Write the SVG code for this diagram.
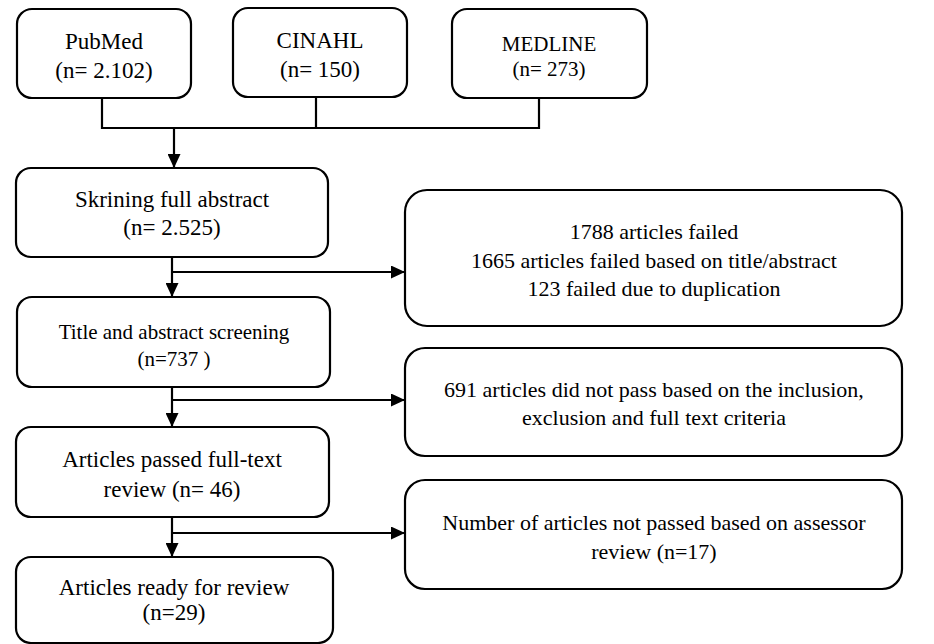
<svg xmlns="http://www.w3.org/2000/svg" width="934" height="644" viewBox="0 0 934 644">
<style>
.box{fill:#fff;stroke:#000;stroke-width:2.2}
.t{font-family:"Liberation Serif","Times New Roman",serif;font-size:22px;fill:#000;text-anchor:middle}
.l{font-size:23px}
.s{font-size:21px}
.c{fill:none;stroke:#000;stroke-width:2.2}
</style>
<defs>
<marker id="ah" markerWidth="14" markerHeight="13" refX="14" refY="6.5" orient="auto" markerUnits="userSpaceOnUse">
<path d="M0,0 L14,6.5 L0,13 z" fill="#000"/>
</marker>
</defs>
<rect width="934" height="644" fill="#fff"/>
<g id="connectors">
<path class="c" d="M102,98 V128 H539 V98 M316,97 V128"/>
<path class="c" d="M174,128 V168" marker-end="url(#ah)"/>
<path class="c" d="M172,257 V297" marker-end="url(#ah)"/>
<path class="c" d="M172,272 H405" marker-end="url(#ah)"/>
<path class="c" d="M172,387 V427" marker-end="url(#ah)"/>
<path class="c" d="M172,400 H405" marker-end="url(#ah)"/>
<path class="c" d="M172,517 V557" marker-end="url(#ah)"/>
<path class="c" d="M172,533 H405" marker-end="url(#ah)"/>
</g>
<g id="pubmed">
<rect class="box" x="17" y="9" width="174" height="89" rx="15"/>
<text class="t l" x="104" y="49">PubMed</text>
<text class="t l" x="104" y="78">(n= 2.102)</text>
</g>
<g id="cinahl">
<rect class="box" x="233" y="8" width="174" height="89" rx="15"/>
<text class="t l" x="320" y="48">CINAHL</text>
<text class="t l" x="320" y="77">(n= 150)</text>
</g>
<g id="medline">
<rect class="box" x="452" y="9" width="195" height="89" rx="15"/>
<text class="t s" x="549" y="51">MEDLINE</text>
<text class="t s" x="549" y="76">(n= 273)</text>
</g>
<g id="skrining">
<rect class="box" x="16" y="168" width="312" height="89" rx="15"/>
<text class="t l" x="172" y="207">Skrining full abstract</text>
<text class="t l" x="172" y="235">(n= 2.525)</text>
</g>
<g id="excluded1">
<rect class="box" x="405" y="190" width="497" height="136" rx="22"/>
<text class="t" x="654" y="239">1788 articles failed</text>
<text class="t" x="654" y="268">1665 articles failed based on title/abstract</text>
<text class="t" x="654" y="296">123 failed due to duplication</text>
</g>
<g id="title">
<rect class="box" x="17" y="297" width="313" height="90" rx="15"/>
<text class="t s" x="174" y="339">Title and abstract screening</text>
<text class="t s" x="174" y="366">(n=737 )</text>
</g>
<g id="excluded2">
<rect class="box" x="405" y="348" width="497" height="108" rx="20"/>
<text class="t" x="654" y="397">691 articles did not pass based on the inclusion,</text>
<text class="t" x="654" y="425">exclusion and full text criteria</text>
</g>
<g id="fulltext">
<rect class="box" x="16" y="427" width="313" height="90" rx="15"/>
<text class="t l" x="172" y="467">Articles passed full-text</text>
<text class="t l" x="172" y="497">review (n= 46)</text>
</g>
<g id="excluded3">
<rect class="box" x="405" y="480" width="497" height="109" rx="20"/>
<text class="t" x="654" y="530">Number of articles not passed based on assessor</text>
<text class="t" x="654" y="559">review (n=17)</text>
</g>
<g id="ready">
<rect class="box" x="16" y="557" width="317" height="86" rx="15"/>
<text class="t l" x="174" y="595">Articles ready for review</text>
<text class="t l" x="174" y="620">(n=29)</text>
</g>
</svg>
